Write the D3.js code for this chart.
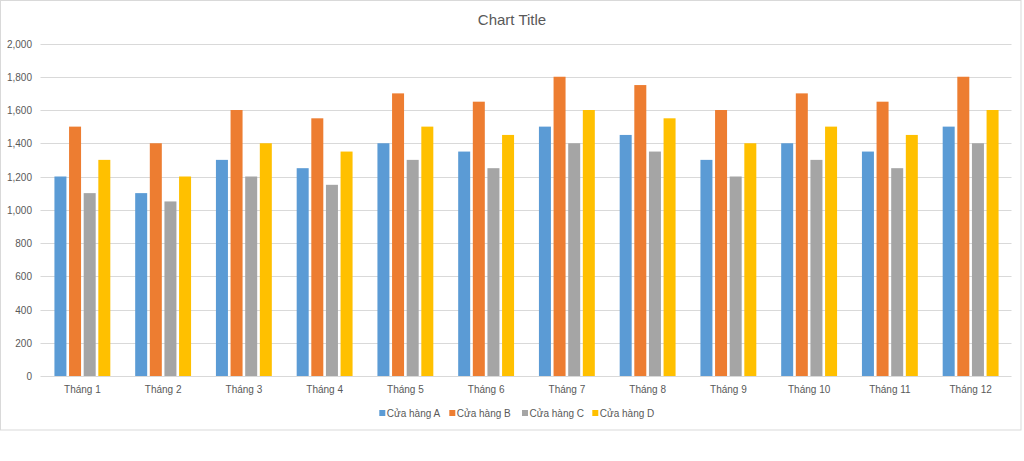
<!DOCTYPE html>
<html><head><meta charset="utf-8">
<script src="https://cdn.jsdelivr.net/npm/d3@7"></script>
<style>body{margin:0;background:#fff;}svg{display:block;font-family:"Liberation Sans",Arial,sans-serif;}</style>
</head><body><svg id="c" width="1024" height="461"></svg>
<script>
const categories = ["Tháng 1","Tháng 2","Tháng 3","Tháng 4","Tháng 5","Tháng 6","Tháng 7","Tháng 8","Tháng 9","Tháng 10","Tháng 11","Tháng 12"];
const seriesNames = ["Cửa hàng A","Cửa hàng B","Cửa hàng C","Cửa hàng D"];
const storeA = [1200,1100,1300,1250,1400,1350,1500,1450,1300,1400,1350,1500];
const storeB = [1500,1400,1600,1550,1700,1650,1800,1750,1600,1700,1650,1800];
const storeC = [1100,1050,1200,1150,1300,1250,1400,1350,1200,1300,1250,1400];
const storeD = [1300,1200,1400,1350,1500,1450,1600,1550,1400,1500,1450,1600];
const yTicks = [0,200,400,600,800,1000,1200,1400,1600,1800,2000];
const colors = ["#5B9BD5","#ED7D31","#A5A5A5","#FFC000"];
const seriesValues = [storeA, storeB, storeC, storeD];

const svg = d3.select("#c");
const textColor = "#595959";
// chart frame
svg.append("rect").attr("x",0.5).attr("y",0.5).attr("width",1020.5).attr("height",429.5)
  .attr("fill","#fff").attr("stroke","#D9D9D9").attr("stroke-width",1);

const pLeft = 42, pRight = 1011, pTop = 43.5, pBottom = 376;
const x = d3.scaleBand().domain(categories).range([pLeft, pRight]).paddingInner(0).paddingOuter(0);
const y = d3.scaleLinear().domain([0,2000]).range([pBottom, pTop]);
const bw = x.bandwidth();
const edge = bw*0.154;
const x1 = d3.scaleBand().domain(seriesNames).range([edge, bw-edge]).paddingInner(0.18).paddingOuter(0);

// gridlines
svg.append("g").selectAll("line").data(yTicks).join("line")
  .attr("x1",pLeft-1.5).attr("x2",pRight+0.5)
  .attr("y1",d=>Math.round(y(d))+0.5).attr("y2",d=>Math.round(y(d))+0.5)
  .attr("stroke","#D9D9D9").attr("stroke-width",1);

// y axis labels
const yAxis = d3.axisLeft(y).tickValues(yTicks).tickSize(0).tickPadding(0).tickFormat(d3.format(","));
const ya = svg.append("g").attr("transform",`translate(32,0)`).call(yAxis);
ya.select(".domain").remove();
ya.selectAll("text").attr("fill",textColor).style("font-size","10px").attr("dy","0.35em");

// bars
const groups = svg.append("g").selectAll("g").data(categories).join("g")
  .attr("transform",d=>`translate(${x(d)},0)`);
groups.selectAll("rect").data((c,i)=>seriesNames.map((s,j)=>({s, v:seriesValues[j][i], j})))
  .join("rect")
  .attr("x",d=>x1(d.s)).attr("width",x1.bandwidth())
  .attr("y",d=>y(d.v)).attr("height",d=>y(0)-y(d.v))
  .attr("fill",d=>colors[d.j]);

// x axis labels
const xAxis = d3.axisBottom(x).tickSize(0).tickPadding(0);
const xa = svg.append("g").attr("transform",`translate(0,${pBottom})`).call(xAxis);
xa.select(".domain").remove();
xa.selectAll("text").attr("fill",textColor).style("font-size","10px").attr("y",13).attr("dy","0.35em");

// title
svg.append("text").attr("x",512).attr("y",20).attr("text-anchor","middle").attr("dy","0.35em")
  .attr("fill",textColor).style("font-size","15px").text("Chart Title");

// legend
const legendX = [379.3, 449.3, 522, 592.3];
const lg = svg.append("g").selectAll("g").data(seriesNames).join("g")
  .attr("transform",(d,i)=>`translate(${legendX[i]},413)`);
lg.append("rect").attr("x",0).attr("y",-3).attr("width",6).attr("height",6).attr("fill",(d,i)=>colors[i]);
lg.append("text").attr("x",7.5).attr("y",0).attr("dy","0.35em").attr("fill",textColor)
  .style("font-size","10px").text(d=>d);
</script></body></html>
